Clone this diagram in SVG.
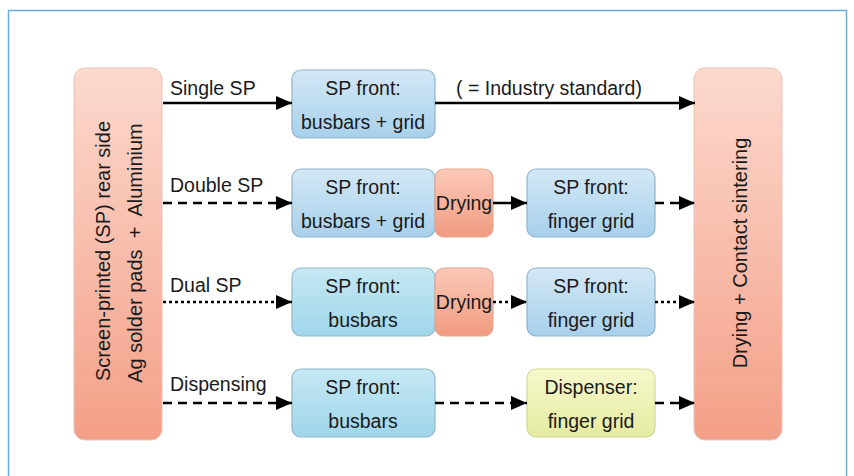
<svg xmlns="http://www.w3.org/2000/svg" width="854" height="476" viewBox="0 0 854 476">
<defs>
<linearGradient id="gBig" x1="0" y1="0" x2="0" y2="1"><stop offset="0" stop-color="#fcd9ce"/><stop offset="1" stop-color="#f49f87"/></linearGradient>
<linearGradient id="gBlue" x1="0" y1="0" x2="0" y2="1"><stop offset="0" stop-color="#d3e8f6"/><stop offset="1" stop-color="#a8d0eb"/></linearGradient>
<linearGradient id="gCyan" x1="0" y1="0" x2="0" y2="1"><stop offset="0" stop-color="#c6e8f4"/><stop offset="1" stop-color="#9fd6ea"/></linearGradient>
<linearGradient id="gDry" x1="0" y1="0" x2="0" y2="1"><stop offset="0" stop-color="#fbc9b8"/><stop offset="1" stop-color="#f29b80"/></linearGradient>
<linearGradient id="gYel" x1="0" y1="0" x2="0" y2="1"><stop offset="0" stop-color="#f6f8cc"/><stop offset="1" stop-color="#e5eba0"/></linearGradient>
<marker id="ah" markerWidth="16" markerHeight="14" refX="16" refY="7" orient="auto" markerUnits="userSpaceOnUse"><path d="M0,0 L16,7 L0,14 Z" fill="#000"/></marker>
<style>
text{font-family:"Liberation Sans",Arial,sans-serif;font-size:19.5px;fill:#1a1a1a}
.mid{text-anchor:middle}
.rot{font-size:20px}
.pre{white-space:pre}
.big{fill:url(#gBig);stroke:#e9c3b6;stroke-width:1}
.blue{fill:url(#gBlue);stroke:#8fb3cb;stroke-width:1.2}
.cyan{fill:url(#gCyan);stroke:#8fb9cb;stroke-width:1.2}
.dry{fill:url(#gDry);stroke:#e5a792;stroke-width:1.2}
.yel{fill:url(#gYel);stroke:#d2d89a;stroke-width:1.2}
.ln{stroke:#000;stroke-width:2.5;fill:none;marker-end:url(#ah)}
.dash{stroke-dasharray:9 6}
.dot{stroke-dasharray:3 3}
</style>
</defs>
<rect x="0" y="0" width="854" height="476" fill="#fff"/>
<rect x="8.5" y="10.5" width="838" height="480" fill="none" stroke="#6aaee0" stroke-width="1.5"/>

<g id="rear">
<rect class="big" x="74" y="68" width="88" height="372" rx="11"/>
<text class="mid rot" transform="translate(110,251) rotate(-90)">Screen-printed (SP) rear side</text>
<text class="mid rot pre" xml:space="preserve" transform="translate(142,253) rotate(-90)">Ag solder pads  +  Aluminium</text>
</g>
<g id="sintering">
<rect class="big" x="694" y="68" width="88" height="372" rx="11"/>
<text class="mid rot" transform="translate(747,253) rotate(-90)">Drying + Contact sintering</text>
</g>

<g id="r1-front">
<rect class="blue" x="292" y="70" width="143" height="68" rx="9"/>
<text class="mid" x="363" y="95">SP front:</text>
<text class="mid" x="363" y="129">busbars + grid</text>
</g>
<g id="r2-front">
<rect class="blue" x="292" y="169" width="143" height="68" rx="9"/>
<text class="mid" x="363" y="194">SP front:</text>
<text class="mid" x="363" y="228">busbars + grid</text>
</g>
<g id="r2-dry">
<rect class="dry" x="435" y="169" width="58" height="68" rx="9"/>
<text class="mid" x="464" y="210">Drying</text>
</g>
<g id="r2-finger">
<rect class="blue" x="527" y="169" width="128" height="68" rx="9"/>
<text class="mid" x="591" y="194">SP front:</text>
<text class="mid" x="591" y="228">finger grid</text>
</g>
<g id="r3-front">
<rect class="cyan" x="292" y="268" width="143" height="68" rx="9"/>
<text class="mid" x="363" y="293">SP front:</text>
<text class="mid" x="363" y="327">busbars</text>
</g>
<g id="r3-dry">
<rect class="dry" x="435" y="268" width="58" height="68" rx="9"/>
<text class="mid" x="464" y="309">Drying</text>
</g>
<g id="r3-finger">
<rect class="blue" x="527" y="268" width="128" height="68" rx="9"/>
<text class="mid" x="591" y="293">SP front:</text>
<text class="mid" x="591" y="327">finger grid</text>
</g>
<g id="r4-front">
<rect class="cyan" x="292" y="369" width="143" height="68" rx="9"/>
<text class="mid" x="363" y="394">SP front:</text>
<text class="mid" x="363" y="428">busbars</text>
</g>
<g id="r4-disp">
<rect class="yel" x="527" y="369" width="128" height="68" rx="9"/>
<text class="mid" x="591" y="394">Dispenser:</text>
<text class="mid" x="591" y="428">finger grid</text>
</g>

<g id="connectors">
<path class="ln" d="M163,103 H292"/>
<path class="ln" d="M435,103 H695"/>
<path class="ln dash" d="M163,203 H292"/>
<path class="ln" d="M493,203 H527"/>
<path class="ln dash" d="M655,203 H695"/>
<path class="ln dot" d="M163,302 H292"/>
<path class="ln dot" d="M493,302 H527"/>
<path class="ln dot" d="M655,302 H695"/>
<path class="ln dash" d="M163,403 H292"/>
<path class="ln dash" d="M435,403 H527"/>
<path class="ln dash" d="M655,403 H695"/>
</g>

<g id="labels">
<text x="170" y="95">Single SP</text>
<text class="mid" x="549" y="95">( = Industry standard)</text>
<text x="170" y="192">Double SP</text>
<text x="170" y="292">Dual SP</text>
<text x="170" y="391">Dispensing</text>
</g>
</svg>
